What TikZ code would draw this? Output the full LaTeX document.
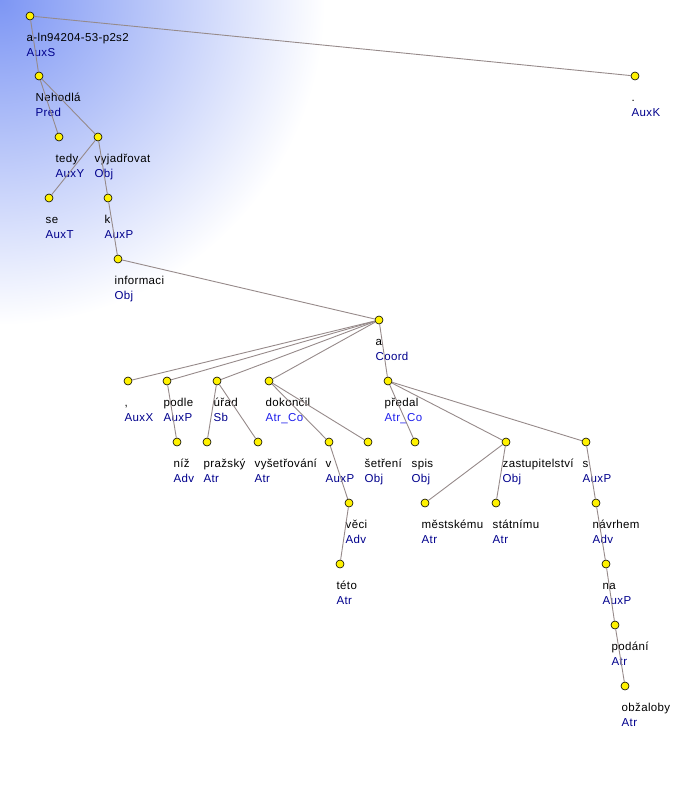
\documentclass[tikz,border=0pt]{standalone}
\usepackage{fontspec}
\setmainfont{Liberation Sans}[LetterSpace=3]
\usetikzlibrary{positioning}
\definecolor{afun}{RGB}{0,0,140}
\definecolor{coafun}{RGB}{30,30,235}
\definecolor{edgegray}{RGB}{150,138,138}
\definecolor{bgblue}{RGB}{125,150,244}
\tikzset{
  tdot/.style={circle,draw=black,fill=yellow,inner sep=0pt,minimum size=8pt,line width=0.6pt},
  tedge/.style={draw=edgegray,line width=0.9pt},
  tword/.style={anchor=base west,inner sep=0pt,font=\fontsize{11.5}{13}\selectfont},
}
\begin{document}
\begin{tikzpicture}[x=1pt,y=-1pt]
    \useasboundingbox (0,0) rectangle (698,795);
    \begin{scope}
        \clip (0,0) rectangle (698,795);
        \shade[inner color=bgblue,outer color=white] (0,0) circle (325);
    \end{scope}
    % tree nodes: name/x/y/word/afun/colour
    \foreach \n/\x/\y/\w/\f/\c in {
        root/30/16/a-ln94204-53-p2s2/AuxS/afun,
        period/635/76/./AuxK/afun,
        nehodla/39/76/Nehodlá/Pred/afun,
        tedy/59/137/tedy/AuxY/afun,
        vyjadrovat/98/137/vyjadřovat/Obj/afun,
        se/49/198/se/AuxT/afun,
        k/108/198/k/AuxP/afun,
        informaci/118/259/informaci/Obj/afun,
        a/379/320/a/Coord/afun,
        comma/128/381/{,}/AuxX/afun,
        podle/167/381/podle/AuxP/afun,
        urad/217/381/úřad/Sb/afun,
        dokoncil/269/381/dokončil/Atr\_Co/coafun,
        predal/388/381/předal/Atr\_Co/coafun,
        niz/177/442/níž/Adv/afun,
        prazsky/207/442/pražský/Atr/afun,
        vysetrovani/258/442/vyšetřování/Atr/afun,
        v/329/442/v/AuxP/afun,
        setreni/368/442/šetření/Obj/afun,
        spis/415/442/spis/Obj/afun,
        zastupitelstvi/506/442/zastupitelství/Obj/afun,
        s/586/442/s/AuxP/afun,
        veci/349/503/věci/Adv/afun,
        mestskemu/425/503/městskému/Atr/afun,
        statnimu/496/503/státnímu/Atr/afun,
        navrhem/596/503/návrhem/Adv/afun,
        teto/340/564/této/Atr/afun,
        na/606/564/na/AuxP/afun,
        podani/615/625/podání/Atr/afun,
        obzaloby/625/686/obžaloby/Atr/afun}{
        \node[tdot] (\n) at (\x,\y) {};
        \node[tword] (\n-w) at ([xshift=-3.5pt,yshift=-25pt]\n.center) {\w};
        \node[tword,text=\c] (\n-f) at ([xshift=-3.5pt,yshift=-40pt]\n.center) {\f};
    }
    % dependency edges
    \foreach \p/\d in {root/nehodla,root/period,nehodla/tedy,nehodla/vyjadrovat,
        vyjadrovat/se,vyjadrovat/k,k/informaci,informaci/a,
        a/comma,a/podle,a/urad,a/dokoncil,a/predal,
        podle/niz,urad/prazsky,urad/vysetrovani,dokoncil/v,dokoncil/setreni,
        v/veci,veci/teto,predal/spis,predal/zastupitelstvi,predal/s,
        zastupitelstvi/mestskemu,zastupitelstvi/statnimu,
        s/navrhem,navrhem/na,na/podani,podani/obzaloby}{
        \draw[tedge] (\p) -- (\d);
    }
\end{tikzpicture}
\end{document}
